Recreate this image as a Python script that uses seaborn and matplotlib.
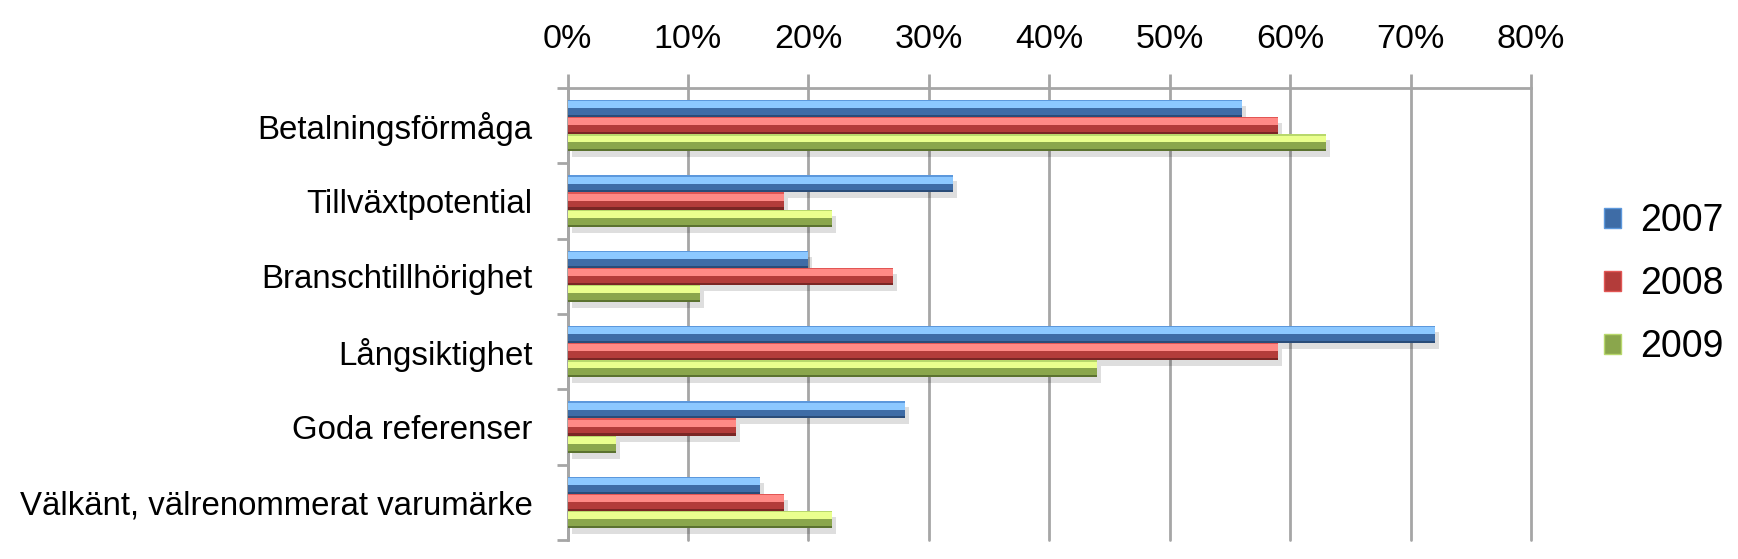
import numpy as np
import pandas as pd
import seaborn as sns
import matplotlib.pyplot as plt
from matplotlib.patches import Rectangle, Patch
from matplotlib import transforms

categories = ["Betalningsförmåga", "Tillväxtpotential", "Branschtillhörighet",
              "Långsiktighet", "Goda referenser", "Välkänt, välrenommerat varumärke"]
years = ["2007", "2008", "2009"]
v2007 = [56, 32, 20, 72, 28, 16]
v2008 = [59, 18, 27, 59, 14, 18]
v2009 = [63, 22, 11, 44, 4, 22]
xtick_values = [0, 10, 20, 30, 40, 50, 60, 70, 80]
xtick_labels = ["0%", "10%", "20%", "30%", "40%", "50%", "60%", "70%", "80%"]

rows = []
for yr, vals in zip(years, [v2007, v2008, v2009]):
    for c, v in zip(categories, vals):
        rows.append({"Kategori": c, "Andel": v, "År": yr})
df = pd.DataFrame(rows)

sns.set_theme(style="white")
plt.rcParams['font.family'] = ['Liberation Sans', 'DejaVu Sans']

body = {"2007": "#3E6CA6", "2008": "#B33C3A", "2009": "#8AA64C"}
light = {"2007": "#8CC8FF", "2008": "#FF8A86", "2009": "#EAFF8E"}
edge_top = {"2007": "#5C98DC", "2008": "#E25654", "2009": "#B8D86C"}
edge_bot = {"2007": "#2A4C78", "2008": "#7A2624", "2009": "#5B7230"}

fig = plt.figure(figsize=(17.38, 5.59), dpi=100)
ax = fig.add_axes([567.5 / 1738, 1 - 540 / 559, (1531 - 567.5) / 1738, (540 - 88) / 559])

sns.barplot(data=df, y="Kategori", x="Andel", hue="År", orient="h",
            palette=body, width=0.68, ax=ax, legend=False, saturation=1,
            linewidth=0, dodge=True)

ax.set_xlim(0, 80)
ax.set_ylim(5.5, -0.5)

# decorate bars (bevel look) using the library-drawn patches
bars = [p for p in ax.patches if isinstance(p, Rectangle) and p.get_width() > 0]
shadow_tr = transforms.offset_copy(ax.transData, fig=fig, x=4, y=-6, units='dots')
for p in bars:
    x, y, w, h = p.get_x(), p.get_y(), p.get_width(), p.get_height()
    fc = p.get_facecolor()
    yr = None
    for k, col in body.items():
        if np.allclose(fc[:3], plt.matplotlib.colors.to_rgb(col), atol=0.02):
            yr = k
    if yr is None:
        continue
    p.set_zorder(3)
    ax.add_patch(Rectangle((x, y), w, h, facecolor="#000000", alpha=0.13,
                           transform=shadow_tr, zorder=2, linewidth=0))
    ax.add_patch(Rectangle((x, y), w, h * 0.08, facecolor=edge_top[yr], zorder=4, linewidth=0))
    ax.add_patch(Rectangle((x, y + h * 0.08), w, h * 0.40, facecolor=light[yr], zorder=4, linewidth=0))
    ax.add_patch(Rectangle((x, y + h * 0.88), w, h * 0.12, facecolor=edge_bot[yr], zorder=4, linewidth=0))

grid_col = "#A6A6A6"
ax.set_axisbelow(True)
ax.grid(axis="x", color=grid_col, linewidth=2)
ax.grid(axis="y", visible=False)
for gl in ax.get_xgridlines():
    gl.set_clip_on(False)

ax.xaxis.tick_top()
ax.set_xticks(xtick_values)
ax.set_xticklabels(xtick_labels)
ax.tick_params(axis="x", which="major", top=True, bottom=False, length=10, width=2,
               color=grid_col, pad=14, labelsize=24.5, labelcolor="black")
ax.set_yticks(range(len(categories)))
ax.set_yticklabels(categories)
ax.set_yticks([i - 0.5 for i in range(len(categories) + 1)], minor=True)
ax.tick_params(axis="y", which="major", length=0, pad=25, labelsize=23.8, labelcolor="black")
ax.tick_params(axis="y", which="minor", left=True, length=8, width=2, color=grid_col)

for s in ["bottom", "right"]:
    ax.spines[s].set_visible(False)
for s in ["top", "left"]:
    ax.spines[s].set_color(grid_col)
    ax.spines[s].set_linewidth(2)

ax.set_xlabel("")
ax.set_ylabel("")

handles = [Patch(facecolor=body[y], edgecolor=edge_top[y], linewidth=1) for y in years]
fig.legend(handles, years, loc="center left", bbox_to_anchor=(1604 / 1738, 1 - 284 / 559),
           frameon=False, fontsize=27, handlelength=0.45, handleheight=0.45,
           handletextpad=0.5, labelspacing=0.72, borderpad=0, borderaxespad=0,
           labelcolor="black")

fig.savefig("out.png", dpi=100)
